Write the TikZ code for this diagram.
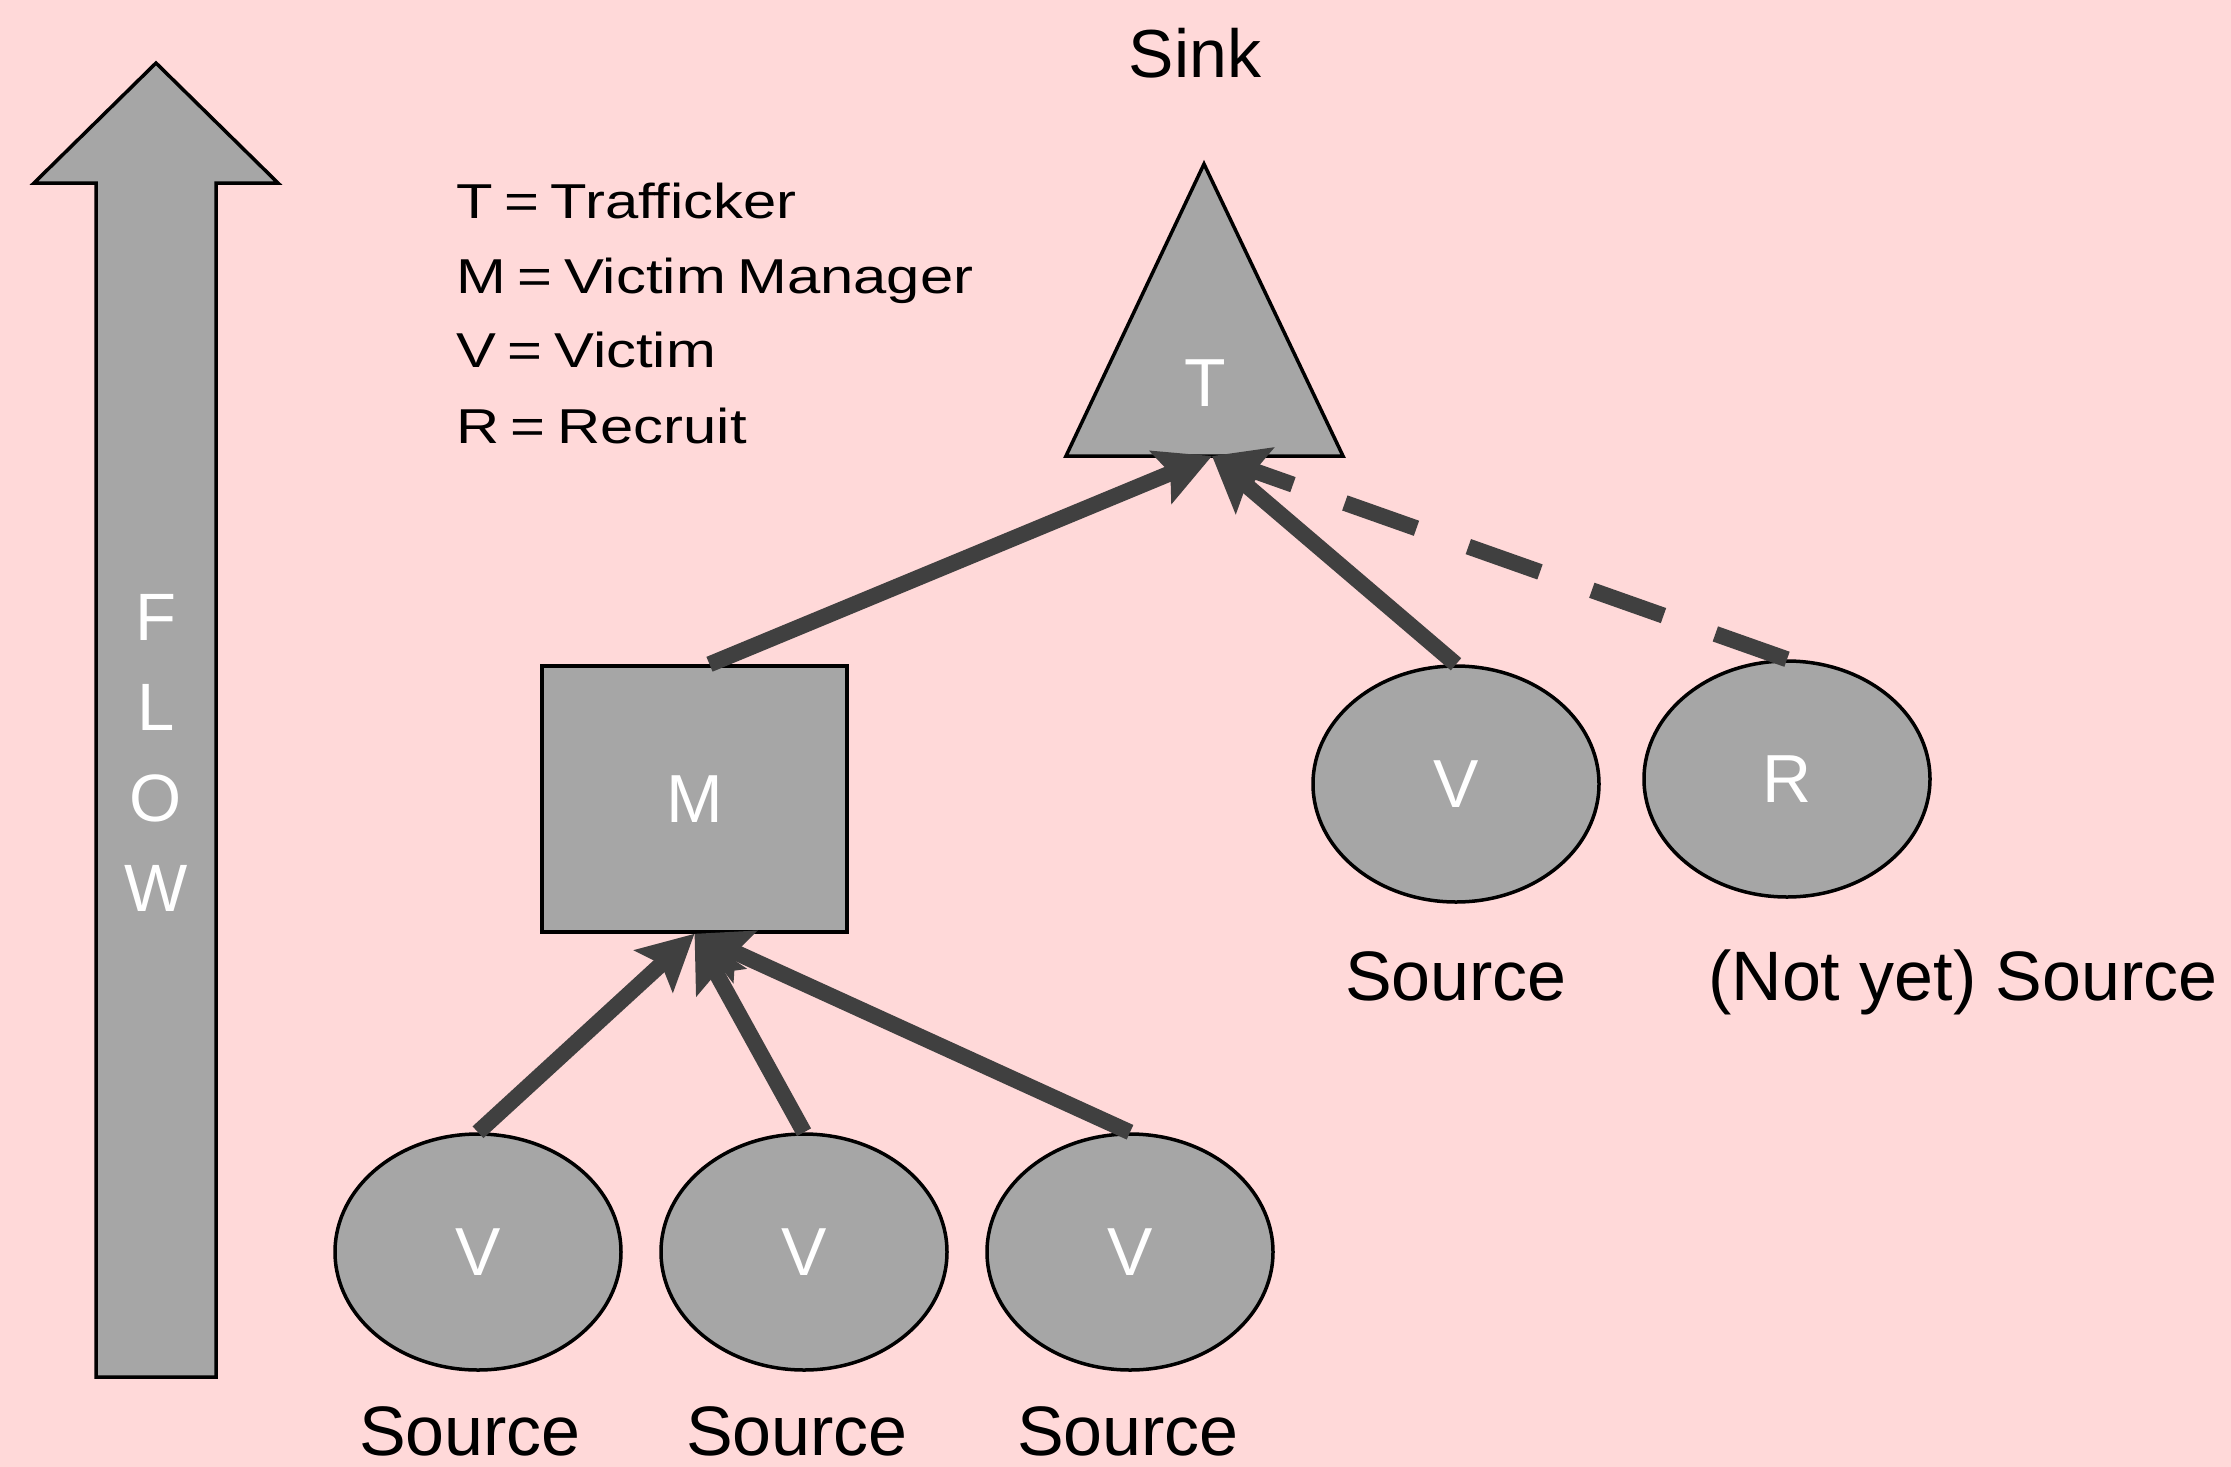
\documentclass[tikz,border=0pt]{standalone}
\usepackage{fontspec}
\setmainfont{Liberation Sans}
\newfontfamily\legendfont[FakeStretch=1.22,WordSpace=0.7]{Liberation Sans}
\usetikzlibrary{arrows.meta,shapes.geometric}
\definecolor{bgpink}{RGB}{255,217,217}
\definecolor{fillgray}{RGB}{166,166,166}
\definecolor{arrowgray}{RGB}{64,64,64}
\begin{document}
\begin{tikzpicture}[x=1pt,y=-1pt,
  shapebox/.style={draw=black,line width=3.5pt,fill=fillgray,text=white,inner sep=0pt,font=\fontsize{68}{80}\selectfont},
  oval/.style={shapebox,ellipse,minimum width=286pt,minimum height=236pt},
  letter/.style={inner sep=0pt,text=white,font=\fontsize{68}{80}\selectfont},
  flowletter/.style={anchor=base,inner sep=0pt,text=white,font=\fontsize{67}{80}\selectfont},
  conn/.style={draw=arrowgray,line width=16pt,-{Stealth[length=55pt,width=56pt,inset=10pt]}},
  srclabel/.style={anchor=base,inner sep=0pt,font=\fontsize{70}{84}\selectfont},
  legendtext/.style={anchor=base west,inner sep=0pt,font=\legendfont\fontsize{49}{60}\selectfont}]

\fill[bgpink] (0,0) rectangle (2231,1467);
\useasboundingbox (0,0) rectangle (2231,1467);

% FLOW arrow
\draw[fill=fillgray,line width=3.5pt,line join=miter]
  (156,63) -- (278,183) -- (216,183) -- (216,1377) -- (96,1377) -- (96,183) -- (34,183) -- cycle;
\node[flowletter] (fF) at (156,640) {F};
\node[flowletter] (fL) at (156,730) {L};
\node[flowletter] (fO) at (156,821) {O};
\node[flowletter] (fW) at (156,911) {W};

% legend
\node[legendtext] (lt) at (456,218) {T = Trafficker};
\node[legendtext] (lm) at (456,293) {M = Victim Manager};
\node[legendtext] (lv) at (456,367) {V = Victim};
\node[legendtext] (lr) at (456,443) {R = Recruit};

% sink
\node[srclabel,font=\fontsize{68}{80}\selectfont] (sink) at (1195,77) {Sink};
\draw[fill=fillgray,line width=3.5pt] (1204,164) -- (1343,456) -- (1066,456) -- cycle;
\node[letter] (t) at (1205,383) {T};
\coordinate (tbase) at (1212,456);

% manager
\node[shapebox,rectangle,minimum width=305pt,minimum height=266pt] (m) at (694.5,799) {M};

% victims and recruit
\node[oval] (v1) at (478,1252) {V};
\node[oval] (v2) at (804,1252) {V};
\node[oval] (v3) at (1130,1252) {V};
\node[oval] (vr) at (1456,784) {V};
\node[oval] (r) at (1787,779) {R};

% labels
\node[srclabel] (s1) at (470,1455) {Source};
\node[srclabel] (s2) at (797,1455) {Source};
\node[srclabel] (s3) at (1128,1455) {Source};
\node[srclabel] (s4) at (1456,1000) {Source};
\node[srclabel] (s5) at (1963,1000) {(Not yet) Source};

% connectors
\draw[conn] ([xshift=15pt]m.north) -- (tbase);
\draw[conn] (vr.north) -- (tbase);
\draw[conn,dash pattern=on 76pt off 55pt] (r.north) -- (tbase);
\draw[conn] (v1.north) -- (m.south);
\draw[conn] (v2.north) -- (m.south);
\draw[conn] (v3.north) -- (m.south);
\end{tikzpicture}
\end{document}
